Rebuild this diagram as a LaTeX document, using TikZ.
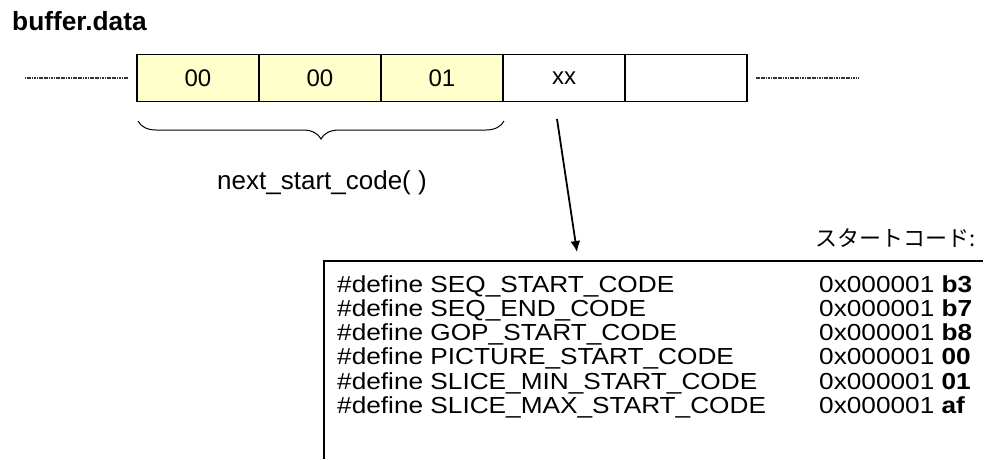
\documentclass[tikz,border=0pt]{standalone}
\usepackage{fontspec}
\setmainfont{Liberation Sans}
\newfontfamily\jpfont{Noto Sans CJK JP}
\newfontfamily\codefont[FakeStretch=1.13]{Liberation Sans}
\usetikzlibrary{arrows.meta,decorations.pathreplacing,positioning}
\definecolor{cellyellow}{HTML}{FFFFCC}

\tikzset{
  cellbox/.style={draw,line width=1.3pt,minimum width=122pt,minimum height=47pt,inner sep=0pt,font=\fontsize{24}{24}\selectfont},
  codetxt/.style={anchor=base west,inner sep=0pt,font=\codefont\fontsize{23.2}{23.2}\selectfont},
  tailline/.style={line width=1.7pt,black!80,dash pattern=on 1.2pt off 0.5pt},
  pointer/.style={line width=1.8pt,-{Latex[length=11pt,width=10pt]}},
  bracestyle/.style={line width=1pt,decorate,decoration={brace,mirror,amplitude=18pt}}
}

\begin{document}
\begin{tikzpicture}[x=1pt,y=-1pt]
  \useasboundingbox (0,0) rectangle (986,459);
  \node [anchor=base west,inner sep=0pt,font=\bfseries\fontsize{26.3}{26.3}\selectfont] (title) at (12,30) {buffer.data};
  % buffer cells
  \foreach \i/\t/\c in {1/00/cellyellow, 2/00/cellyellow, 3/01/cellyellow, 4/xx/white, 5/{}/white}{
    \node [cellbox,fill=\c] at (76+122*\i,78) (c\i) {\t};
  }
  \coordinate (tailL) at (25,78);
  \coordinate (tailR) at (858,78);
  \draw [tailline,shorten >=9pt] (tailL) -- (c1.west);
  \draw [tailline,shorten <=8pt] (c5.east) -- (tailR);
  % brace under the start code
  \coordinate (brL) at (138,121);
  \coordinate (brR) at (504,121);
  \draw [bracestyle] (brL) -- (brR);
  \node [font=\fontsize{26}{26}\selectfont] at (322,183) (nsc) {next\_start\_code( )};
  % arrow to the table
  \coordinate (arrS) at (557,119);
  \coordinate (arrE) at (577,252);
  \draw [pointer] (arrS) -- (arrE);
  \node [anchor=east,inner sep=0pt,font=\jpfont\fontsize{22}{22}\selectfont] at (976,238) (jp) {スタートコード:};
  % table frame, cut off at the right and bottom
  \draw [line width=1.3pt] (324,459) -- (324,261) -- (983,261);
  \foreach \n/\v [count=\k from 0] in {SEQ\_START\_CODE/b3, SEQ\_END\_CODE/b7, GOP\_START\_CODE/b8, PICTURE\_START\_CODE/00, SLICE\_MIN\_START\_CODE/01, SLICE\_MAX\_START\_CODE/af}{
    \node [codetxt] at (337,292+24.3*\k) (def\k) {\#define \n};
    \node [codetxt] at (819,292+24.3*\k) (val\k) {0x000001 \textbf{\v}};
  }
\end{tikzpicture}
\end{document}
